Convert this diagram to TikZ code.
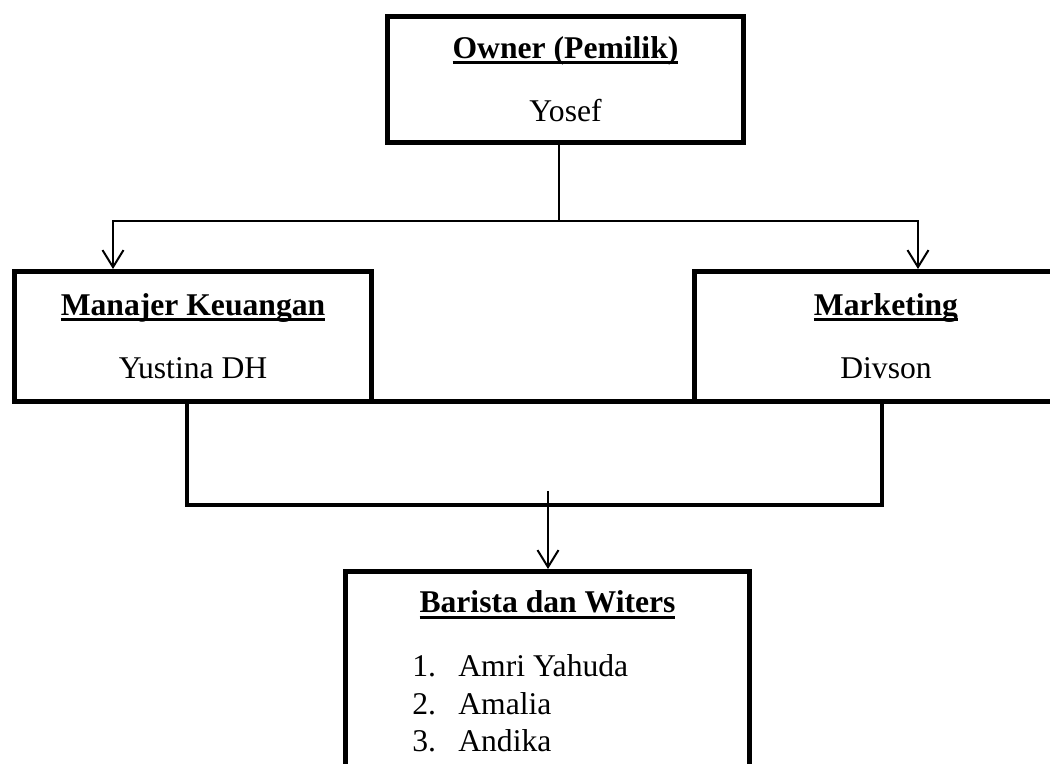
\documentclass[tikz,border=0pt]{standalone}
\usepackage{fontspec}
\setmainfont{Liberation Serif}
\usetikzlibrary{arrows.meta,positioning}

\newsavebox\titlebox
\newcommand{\boxtitle}[1]{\sbox\titlebox{\bfseries #1}\rlap{\usebox\titlebox}\rule[-3.2pt]{\wd\titlebox}{1.6pt}}

\tikzset{
  orgbox/.style={draw, line width=0.1cm, align=center, inner sep=0pt, font=\fontsize{18}{22}\selectfont},
  listtext/.style={inner sep=0pt, font=\fontsize{18}{22}\selectfont},
  thinline/.style={line width=0.04cm},
  thickline/.style={line width=0.08cm},
  downarrow/.style={thinline, -{Straight Barb[length=0.34cm,width=0.42cm]}}
}

\begin{document}
\begin{tikzpicture}
\useasboundingbox (0,0) rectangle (21,-15.28);

% Owner at the top
\node[orgbox, minimum width=7.12cm, minimum height=2.52cm] (owner) at (11.31,-1.59) {\boxtitle{Owner (Pemilik)}\\[14pt] Yosef};

% second level
\node[orgbox, minimum width=7.14cm, minimum height=2.6cm] (keuangan) at (3.86,-6.73) {\boxtitle{Manajer Keuangan}\\[14pt] Yustina DH};
\node[orgbox, minimum width=7.66cm, minimum height=2.6cm] (marketing) at (17.72,-6.73) {\boxtitle{Marketing}\\[14pt] Divson};
\draw[line width=0.1cm] ([yshift=0.05cm]keuangan.south east) -- ([yshift=0.05cm]marketing.south west);

% branches from the owner
\coordinate (stemtop) at (11.18,-2.9);
\coordinate (fork) at (11.18,-4.42);
\draw[thinline] (stemtop) -- (fork);
\draw[downarrow] (fork) -| ([xshift=-1.6cm]keuangan.north);
\draw[downarrow] (fork) -| ([xshift=0.64cm]marketing.north);

% Barista box
\node[orgbox, minimum width=8.08cm, minimum height=4.92cm, anchor=north] (barista) at (10.95,-11.38) {};
\node[listtext, anchor=base] (baristatitle) at ([yshift=-0.88cm]barista.north) {\boxtitle{Barista dan Witers}};
\foreach \i/\name in {1/Amri Yahuda, 2/Amalia, 3/Andika}
  \node[listtext, anchor=base west] (crew\i) at ([xshift=1.38cm, yshift={-2.16cm-(\i-1)*0.75cm}]barista.north west) {\makebox[0.92cm][l]{\i.}\name};

% joining both managers down to the barista
\coordinate (merge) at (10.96,-10.1);
\draw[thickline] ([xshift=-0.12cm]keuangan.south) |- (merge) -| ([xshift=-0.08cm]marketing.south);
\draw[downarrow] ([yshift=0.28cm]merge) -- (barista.north -| merge);

\end{tikzpicture}
\end{document}
